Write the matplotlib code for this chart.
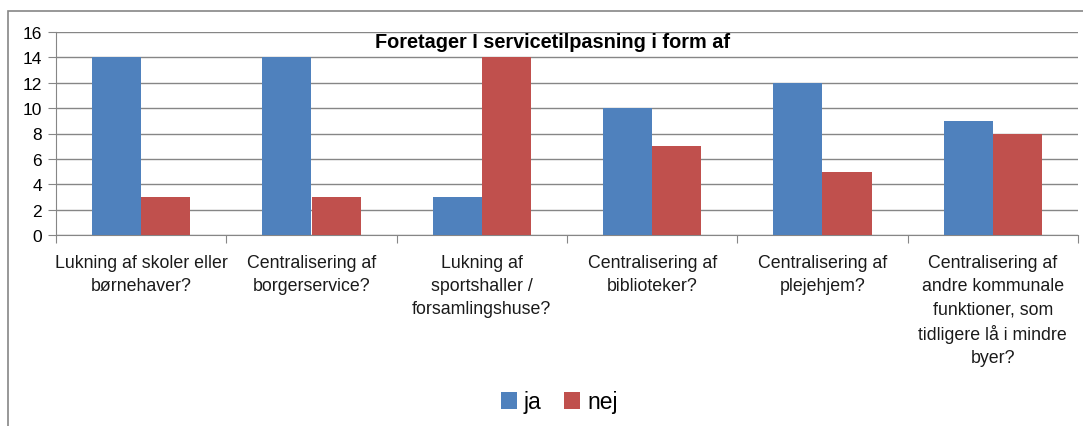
import matplotlib.pyplot as plt
from matplotlib.patches import Rectangle
import numpy as np

plt.rcParams['font.family'] = ['Liberation Sans', 'DejaVu Sans']

kategorier = [
    "Lukning af skoler eller\nbørnehaver?",
    "Centralisering af\nborgerservice?",
    "Lukning af\nsportshaller /\nforsamlingshuse?",
    "Centralisering af\nbiblioteker?",
    "Centralisering af\nplejehjem?",
    "Centralisering af\nandre kommunale\nfunktioner, som\ntidligere lå i mindre\nbyer?",
]
ja = [14, 14, 3, 10, 12, 9]
nej = [3, 3, 14, 7, 5, 8]

fig = plt.figure(figsize=(10.83, 4.27), dpi=100)
ax = fig.add_axes([56 / 1083, 1 - 236 / 427, 1022 / 1083, 203 / 427])

# ramme rundt om diagrammet
fig.patches.append(Rectangle((8 / 1083, -0.05), 1.1, 1 - 12 / 427 + 0.05,
                             transform=fig.transFigure, fill=False,
                             edgecolor='#868686', linewidth=1.2))

x = np.arange(len(kategorier))
b = 0.288
ax.bar(x - b / 2, ja, b, color='#4F81BD', label='ja', zorder=3)
ax.bar(x + b / 2, nej, b, color='#C0504D', label='nej', zorder=3)

ax.set_xlim(-0.5, len(kategorier) - 0.5)
ax.set_ylim(0, 16)
ax.set_yticks(range(0, 17, 2))
ax.yaxis.grid(True, color='#868686', linewidth=1, zorder=0)

ax.set_xticks(np.arange(-0.5, len(kategorier), 1))
ax.set_xticklabels([])
ax.set_xticks(x, minor=True)
ax.set_xticklabels(kategorier, minor=True, fontsize=12.8, color='#1a1a1a',
                   linespacing=1.45)
ax.tick_params(axis='x', which='minor', length=0, pad=14)
ax.tick_params(axis='x', which='major', length=6, color='#868686', direction='out')
ax.tick_params(axis='y', length=6, color='#868686', labelsize=12.5, pad=4)

for s in ['top', 'right']:
    ax.spines[s].set_visible(False)
ax.spines['left'].set_color('#868686')
ax.spines['bottom'].set_color('#868686')

fig.text(553 / 1083, 1 - 43 / 427, "Foretager I servicetilpasning i form af",
         ha='center', va='center', fontsize=14.3, fontweight='bold')

fig.legend(loc='center', bbox_to_anchor=(559 / 1083, 1 - 403 / 427), ncol=2,
           frameon=False, fontsize=16.5, handlelength=0.7, handleheight=0.7,
           handletextpad=0.3, columnspacing=1.0)

plt.savefig('out.png', dpi=100)
